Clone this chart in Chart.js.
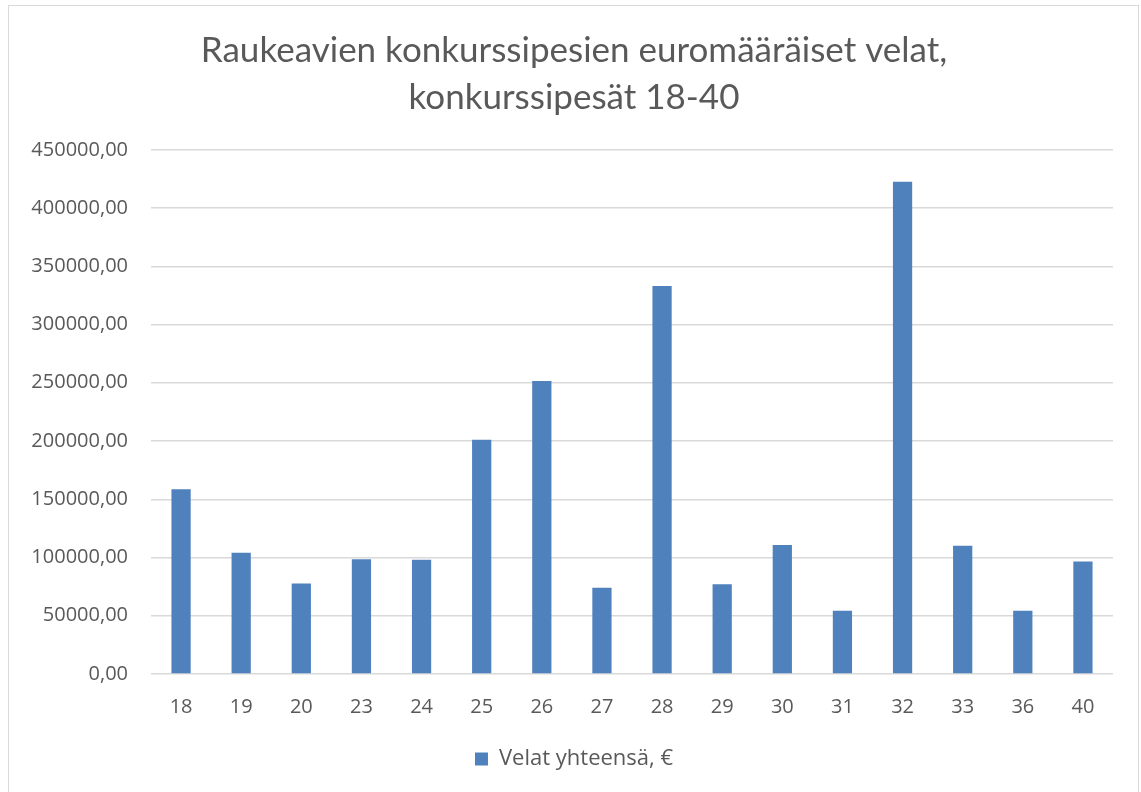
<!DOCTYPE html>
<html lang="fi">
<head>
    <meta charset="UTF-8">
    <title>Raukeavien konkurssipesien velat</title>
    <style>
        body {
            margin: 0;
            padding: 0;
            background: #ffffff;
        }
        .frame {
            position: absolute;
            left: 8px;
            top: 5px;
            width: 1131px;
            height: 800px;
            border: 1px solid #d9d9d9;
            box-sizing: border-box;
        }
        .chart-container {
            position: absolute;
            left: 0;
            top: 0;
            width: 1141px;
            height: 792px;
        }
    </style>
    <script src="https://cdn.jsdelivr.net/npm/chart.js"></script>
</head>
<body>
    <div class="frame"></div>
    <div class="chart-container">
        <canvas id="plot"></canvas>
    </div>

    <script>
        const categories = ['18', '19', '20', '23', '24', '25', '26', '27', '28', '29', '30', '31', '32', '33', '36', '40'];
        const debts = [158600, 104000, 77700, 98600, 98100, 201000, 251500, 74000, 333000, 77100, 110700, 54200, 422500, 110100, 54200, 96600];
        const yTicks = [0, 50000, 100000, 150000, 200000, 250000, 300000, 350000, 400000, 450000];
        const titleLines = ['Raukeavien konkurssipesien euromääräiset velat,', 'konkurssipesät 18-40'];
        const seriesName = 'Velat yhteensä, €';

        const textColor = '#595959';
        const gridColor = '#d9d9d9';
        const tickFont = { family: "'Open Sans', 'Noto Sans', sans-serif", size: 20 };

        const ctx = document.getElementById('plot').getContext('2d');
        const chart = new Chart(ctx, {
            type: 'bar',
            data: {
                labels: categories,
                datasets: [{
                    label: seriesName,
                    data: debts,
                    backgroundColor: '#4f81bd',
                    borderWidth: 0,
                    barPercentage: 0.32,
                    categoryPercentage: 1.0
                }]
            },
            options: {
                responsive: true,
                maintainAspectRatio: false,
                animation: false,
                layout: {
                    padding: { left: 7, right: 0, top: 0, bottom: 12 }
                },
                scales: {
                    x: {
                        grid: { display: false, drawTicks: false },
                        border: { display: false },
                        ticks: { color: textColor, font: tickFont, padding: 21 }
                    },
                    y: {
                        min: 0,
                        max: 450000,
                        afterBuildTicks: function(axis) {
                            axis.ticks = yTicks.map(v => ({ value: v }));
                        },
                        afterFit: function(axis) {
                            axis.width = 144;
                        },
                        grid: { color: gridColor, lineWidth: 1.5, drawTicks: false },
                        border: { display: false },
                        ticks: {
                            color: textColor,
                            font: tickFont,
                            padding: 23,
                            callback: function(value) {
                                return value.toFixed(2).replace('.', ',');
                            }
                        }
                    },
                    // empty right-hand axis, only keeps a margin at the right of the plot
                    yRight: {
                        position: 'right',
                        min: 0,
                        max: 450000,
                        afterFit: function(axis) {
                            axis.width = 28;
                        },
                        grid: { display: false, drawTicks: false },
                        border: { display: false },
                        ticks: { display: false }
                    }
                },
                plugins: {
                    title: {
                        display: true,
                        text: titleLines,
                        color: textColor,
                        font: { family: "Lato, 'Open Sans', sans-serif", size: 35, weight: 'normal', lineHeight: 1.34 },
                        padding: { top: 27, bottom: 29 }
                    },
                    legend: {
                        position: 'bottom',
                        labels: {
                            color: textColor,
                            font: { family: "'Open Sans', 'Noto Sans', sans-serif", size: 22 },
                            boxWidth: 13,
                            boxHeight: 13,
                            padding: 8
                        }
                    },
                    tooltip: { enabled: false }
                }
            }
        });
    </script>
</body>
</html>
